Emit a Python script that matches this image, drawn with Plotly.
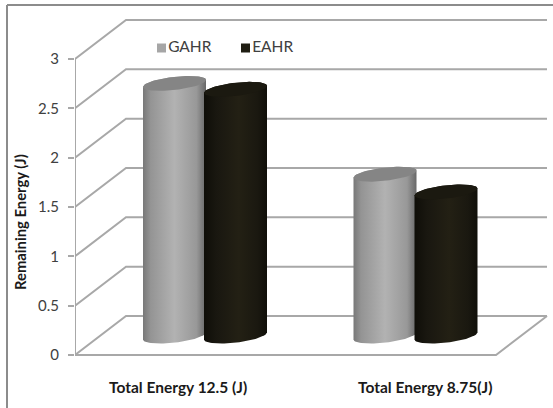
import numpy as np
import plotly.graph_objects as go

# Chart data
categories = ["Total Energy 12.5 (J)", "Total Energy 8.75(J)"]
series_names = ["GAHR", "EAHR"]
gahr_values = [2.56, 1.64]
eahr_values = [2.50, 1.46]
y_ticks = [0, 0.5, 1, 1.5, 2, 2.5, 3]

# Page geometry (pixels)
W, H = 553, 408
AXIS_PX = 75
FRONT_RIGHT_PX = 496
ZERO_PX = 355
UNIT_PX = 98.67
DEPTH_X_PX, DEPTH_Y_PX = 51, 39
GROUP_PX = [205, 415.5]
GROUP_STEP = GROUP_PX[1] - GROUP_PX[0]
LABEL_PX = [178, 425]


def px_x(p):
    return (p - GROUP_PX[0]) / GROUP_STEP


def px_h(p):
    return p / UNIT_PX


x_range = [px_x(AXIS_PX), px_x(W)]
y_range = [(ZERO_PX - H) / UNIT_PX, ZERO_PX / UNIT_PX]
depth_x = DEPTH_X_PX / GROUP_STEP
depth_y = px_h(DEPTH_Y_PX)
grid_right = px_x(FRONT_RIGHT_PX)
front_left = px_x(AXIS_PX)

GRID = "#a8a8a8"
fig = go.Figure()

# Back-wall gridlines and the slanted side-wall lines
for v in y_ticks:
    fig.add_trace(go.Scatter(
        x=[front_left, front_left + depth_x, grid_right + depth_x],
        y=[v, v + depth_y, v + depth_y],
        mode="lines", line=dict(color=GRID, width=2),
        showlegend=False, hoverinfo="skip", cliponaxis=False,
    ))

# Floor edges
fig.add_trace(go.Scatter(
    x=[front_left, grid_right, grid_right + depth_x],
    y=[0, 0, depth_y],
    mode="lines", line=dict(color=GRID, width=2),
    showlegend=False, hoverinfo="skip",
))

# Front vertical edge of the side wall
fig.add_trace(go.Scatter(
    x=[front_left, front_left], y=[0, y_ticks[-1]], mode="lines",
    line=dict(color=GRID, width=2), showlegend=False, hoverinfo="skip",
    cliponaxis=False,
))

HALF_W = px_x(GROUP_PX[0] + 31.5)
OFFSET = 30.5 / GROUP_STEP
BASE_LIFT = px_h(19)
TILT = px_h(3.5)
MINOR = px_h(6.6)

BODY_SCALES = [
    [[0, "#787878"], [0.12, "#949494"], [0.5, "#b2b2b2"], [0.85, "#989898"], [1, "#686868"]],
    [[0, "#0f0e08"], [0.2, "#191710"], [0.55, "#232014"], [0.85, "#1a1810"], [1, "#100f09"]],
]
CAP_COLORS = ["#858585", "#1b1910"]
SWATCH_COLORS = ["#a6a6a6", "#1f1d12"]


def cylinder(center, value, body_scale, cap_color):
    t_low = np.linspace(np.pi, 0, 40)
    t_up = np.linspace(0, np.pi, 40)
    base = BASE_LIFT

    def edge(t, level):
        return center + HALF_W * np.cos(t), level + TILT * np.cos(t) + MINOR * np.sin(t)

    # lower half of the base, then the upper half of the top rim
    xb, _ = edge(t_low, base)
    yb = base + TILT * np.cos(t_low) - MINOR * np.sin(t_low)
    xt, yt = edge(t_up, base + value)
    fig.add_trace(go.Scatter(
        x=np.r_[xb, xt], y=np.r_[yb, yt], mode="lines", line=dict(width=0),
        fill="toself",
        fillgradient=dict(type="horizontal", colorscale=body_scale),
        showlegend=False, hoverinfo="skip",
    ))
    t = np.linspace(0, 2 * np.pi, 80)
    xc, yc = edge(t, base + value)
    fig.add_trace(go.Scatter(
        x=xc, y=yc, mode="lines", line=dict(width=0),
        fill="toself", fillcolor=cap_color,
        showlegend=False, hoverinfo="skip",
    ))


for i in range(len(categories)):
    cylinder(i - OFFSET, gahr_values[i], BODY_SCALES[0], CAP_COLORS[0])
    cylinder(i + OFFSET, eahr_values[i], BODY_SCALES[1], CAP_COLORS[1])

# Series key above the columns
for name, colour, px in zip(series_names, SWATCH_COLORS, [161.5, 245.5]):
    fig.add_trace(go.Scatter(
        x=[px_x(px)], y=[(ZERO_PX - 48) / UNIT_PX],
        mode="markers+text", text=[name], textposition="middle right",
        textfont=dict(family="Lato", size=15.5, color="#404040"),
        marker=dict(symbol="square", size=9, color=colour),
        showlegend=False, hoverinfo="skip",
    ))

annotations = [
    dict(x=LABEL_PX[i] / W, y=1 - 387 / H, xref="paper", yref="paper",
         xanchor="center", yanchor="middle",
         text=f"<b>{c}</b>", showarrow=False,
         font=dict(family="Lato", size=15.5, color="#1a1a1a"))
    for i, c in enumerate(categories)
]
annotations.append(dict(
    x=20 / W, y=1 - 222 / H, xref="paper", yref="paper",
    xanchor="center", yanchor="middle",
    text="<b>Remaining Energy (J)</b>", textangle=-90, showarrow=False,
    font=dict(family="Lato", size=14.8, color="#1a1a1a"),
))

# Frame along the top and left of the page
shapes = [
    dict(type="line", xref="paper", yref="paper", x0=7 / W, x1=1, y0=1 - 5 / H, y1=1 - 5 / H,
         line=dict(color="#8c8c8c", width=2)),
    dict(type="line", xref="paper", yref="paper", x0=7 / W, x1=7 / W, y0=0, y1=1 - 5 / H,
         line=dict(color="#8c8c8c", width=2)),
]

fig.update_layout(
    width=W, height=H, autosize=False,
    margin=dict(l=0, r=0, t=0, b=0),
    paper_bgcolor="white", plot_bgcolor="white",
    showlegend=False, annotations=annotations, shapes=shapes,
    xaxis=dict(domain=[AXIS_PX / W, 1], range=x_range, visible=False, fixedrange=True),
    yaxis=dict(
        range=y_range, tickvals=y_ticks, ticktext=[str(v) for v in y_ticks],
        ticks="outside", ticklen=6, tickcolor=GRID, tickwidth=2,
        ticklabelstandoff=6,
        showline=False, showgrid=False, zeroline=False,
        tickfont=dict(family="Lato", size=15, color="#404040"),
        fixedrange=True, automargin=False,
    ),
)

fig.write_html("out.html")
